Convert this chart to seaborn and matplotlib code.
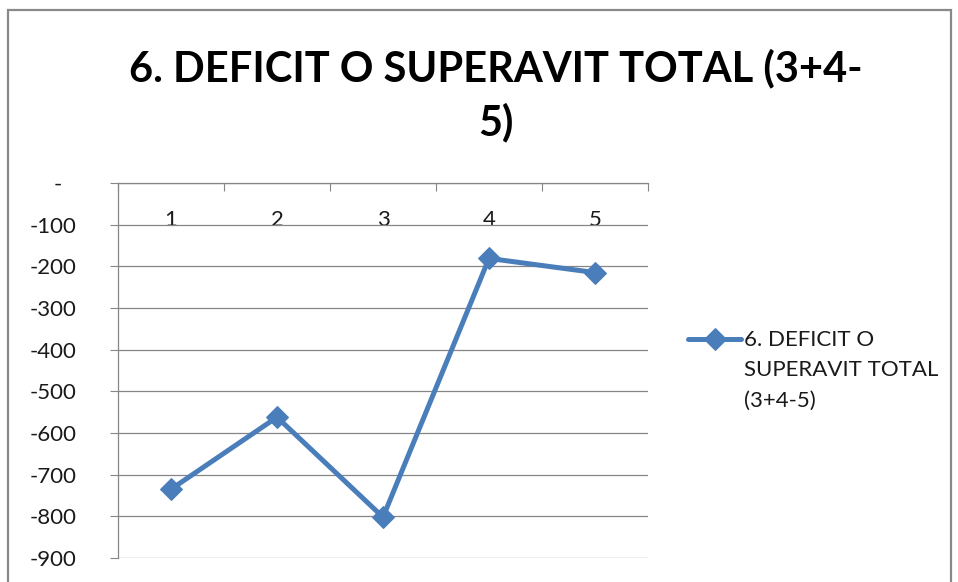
import matplotlib
matplotlib.use("Agg")
import matplotlib.pyplot as plt
import matplotlib.patches as mpatches
import matplotlib.transforms as mtransforms
import numpy as np
import pandas as pd
import seaborn as sns

# Data
periodos = ["1", "2", "3", "4", "5"]
deficit = [-735, -562, -802, -181, -215]
serie = "6. DEFICIT O\nSUPERAVIT TOTAL\n(3+4-5)"
titulo = "6. DEFICIT O SUPERAVIT TOTAL (3+4-\n5)"
y_ticks = list(range(-900, 1, 100))
y_labels = ["-" if v == 0 else str(v) for v in y_ticks]

sns.set_theme(style="white")
plt.rcParams["font.family"] = ["Lato", "DejaVu Sans"]

W, H, DPI = 958, 582, 100
fig = plt.figure(figsize=(W / DPI, H / DPI), dpi=DPI)
fig.patch.set_facecolor("white")

# plot area in pixel coordinates
left, right, top, bottom = 118, 648, 183, 558
ax = fig.add_axes([left / W, 1 - bottom / H, (right - left) / W, (bottom - top) / H])

df = pd.DataFrame({"periodo": periodos, "valor": deficit, "serie": serie})
blue = "#4A7EBB"
grey = "#868686"
txt = "#1a1a1a"
fs = 16

sns.lineplot(data=df, x="periodo", y="valor", hue="serie", palette=[blue],
             marker="D", markersize=11, markeredgecolor=blue, linewidth=3.6,
             sort=False, ax=ax)

ax.set_xlim(-0.5, 4.5)
ax.set_ylim(-900, 0)
ax.set_xlabel("")
ax.set_ylabel("")

# value axis
ax.set_yticks(y_ticks)
ax.set_yticklabels(y_labels)
ax.tick_params(axis="y", which="major", left=True, direction="out", length=6,
               width=0.8, color=grey, pad=24, labelsize=fs, labelcolor=txt)
ax.yaxis.grid(True, color=grey, linewidth=0.9)
ax.xaxis.grid(False)
# shift the zero label ("-") a bit to the left
for lbl, v in zip(ax.get_yticklabels(), y_ticks):
    if v == 0:
        lbl.set_transform(lbl.get_transform() + mtransforms.ScaledTranslation(-14 / DPI, 0, fig.dpi_scale_trans))

# category axis along the zero line (top)
ax.xaxis.tick_top()
ax.set_xticks(range(len(periodos)))
ax.set_xticklabels(periodos)
ax.set_xticks(np.arange(-0.5, 5, 1.0), minor=True)
ax.tick_params(axis="x", which="major", top=True, bottom=False, labeltop=True,
               labelbottom=False, length=0, pad=-34, labelsize=fs, labelcolor=txt)
ax.tick_params(axis="x", which="minor", top=True, bottom=False, direction="in",
               length=6, width=0.8, color=grey)

for side in ["right", "bottom"]:
    ax.spines[side].set_visible(False)
for side in ["top", "left"]:
    ax.spines[side].set_color(grey)
    ax.spines[side].set_linewidth(0.9)

# legend: handle aligned with the first text line
leg = ax.legend(loc="upper left", bbox_to_anchor=(688 / W, 1 - 330 / H),
                bbox_transform=fig.transFigure, frameon=False, fontsize=fs,
                handlelength=2.4, handleheight=1.2, handletextpad=0.1,
                borderpad=0, borderaxespad=0)
for t in leg.get_texts():
    t.set_linespacing(1.65)
    t.set_color(txt)
for col in leg._legend_handle_box.get_children():
    for item in col.get_children():
        item.align = "top"

# title (baseline of the last line given)
fig.text(496 / W, 1 - 135 / H, titulo, ha="center", va="baseline", fontsize=30,
         fontweight="bold", linespacing=1.43, color="black")

# chart area border
fig.patches.append(mpatches.Rectangle((8 / W, -0.1), (951 - 8) / W, 1.1 - 10 / H,
                                      transform=fig.transFigure, fill=False,
                                      edgecolor="#898989", linewidth=1.6))

fig.savefig("out.png", dpi=DPI, facecolor="white")
